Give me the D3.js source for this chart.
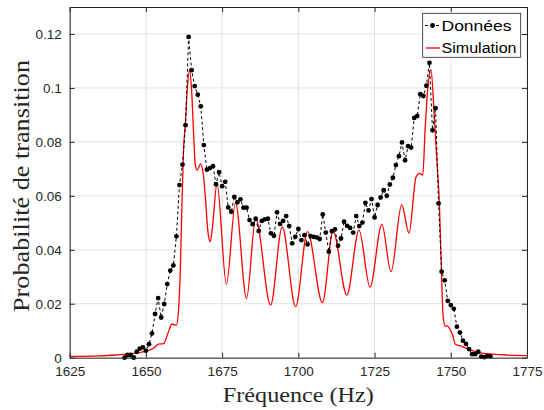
<!DOCTYPE html>
<html><head><meta charset="utf-8">
<script src="https://cdn.jsdelivr.net/npm/d3@7"></script>
<style>body{margin:0;background:#fff}svg{display:block}</style>
</head><body><svg id="c" width="544" height="410"></svg>
<script>
const xTicks = [1625, 1650, 1675, 1700, 1725, 1750, 1775];
const xTickLabels = ["1625", "1650", "1675", "1700", "1725", "1750", "1775"];
const yTicks = [0, 0.02, 0.04, 0.06, 0.08, 0.1, 0.12];
const yTickLabels = ["0", "0.02", "0.04", "0.06", "0.08", "0.1", "0.12"];
const seriesNames = ["Données", "Simulation"];

const dataFreq = [1643,1644,1645,1646,1647,1648,1649,1650,1651,1652,1653,1654,1655,1656,1657,1658,1659,1660,
1661,1662,1663,1664,1665,1666,1667,1668,1669,1670,1671,1672,1673,1674,1675,1676,1677,1678,1679,1680,
1681,1682,1683,1684,1685,1686,1687,1688,1689,1690,1691,1692,1693,1694,1695,1696,1697,1698,1699,1700,
1701,1702,1703,1704,1705,1706,1707,1708,1709,1710,1711,1712,1713,1714,1715,1716,1717,1718,1719,1720,
1721,1722,1723,1724,1725,1726,1727,1728,1729,1730,1731,1732,1733,1734,1735,1736,1737,1738,1739,1740,
1741,1742,1743,1744,1745,1746,1747,1748,1749,1750,1751,1752,1753,1754,1755,1756,1757,1758,1759,1760,
1761,1762,1763];
const dataValues = [0.0,0.001,0.001,0.0,0.0022,0.0034,0.0038,0.0026,0.005,0.009,0.0162,0.0221,0.0149,0.0199,0.0273,0.0323,0.0342,0.045,
0.064,0.0716,0.0862,0.1189,0.1066,0.1007,0.0975,0.0932,0.0788,0.0697,0.0703,0.071,0.0643,0.0688,0.0636,0.0652,0.0557,0.0541,0.0596,0.0576,
0.0587,0.0556,0.0556,0.051,0.0495,0.0515,0.047,0.0507,0.0513,0.0515,0.0461,0.0452,0.0539,0.0496,0.0507,0.0525,0.0488,0.0424,0.0448,0.0477,
0.0436,0.0454,0.042,0.0451,0.0448,0.0446,0.044,0.0531,0.0464,0.0393,0.0469,0.0476,0.0415,0.0442,0.0504,0.0489,0.0481,0.0464,0.0525,0.0488,
0.0501,0.0574,0.0546,0.0588,0.052,0.0566,0.0594,0.0621,0.06,0.0642,0.0667,0.0714,0.0747,0.0798,0.0732,0.0784,0.0779,0.0889,0.0896,0.0977,
0.097,0.1008,0.1093,0.0843,0.0925,0.0572,0.0319,0.0287,0.0211,0.0195,0.0181,0.0115,0.0093,0.0063,0.0051,0.0032,0.0013,0.0013,0.0022,0.0004,
0.0002,0.0007,0.0005];

const simFreq = [1625,1635,1640,1646,1650,1652.5,1654.1,1655.8,1657.4,1658.5,1660,1660.7,1661.3,1661.8,1662.3,1663,1663.6,1664.3,
1665,1665.6,1666.2,1666.8,1667.9,1668.8,1669.6,1670.3,1671.1,1671.8,1673.3,1676.4,1679.4,1683,1686,1690.9,1694.7,1699.1,
1703,1707.9,1711.4,1715.9,1719.9,1723.5,1727.4,1730.4,1733.9,1736.3,1738.6,1739.7,1740.8,1741.6,1742.4,1743.5,1744.6,
1745.5,1746.3,1746.8,1747.5,1748.2,1748.8,1749.6,1750.6,1751.5,1753.6,1756.4,1758.3,1761,1763,1768,1775];
const simValues = [0.0005,0.0007,0.001,0.0016,0.0024,0.0035,0.005,0.0052,0.0096,0.0125,0.0121,0.0177,0.033,0.056,0.076,0.088,0.1,0.1066,
0.099,0.084,0.0715,0.0695,0.0718,0.068,0.058,0.047,0.043,0.048,0.0646,0.0273,0.0574,0.022,0.0516,0.0195,0.0485,0.0189,
0.0467,0.0204,0.0469,0.0232,0.0473,0.0262,0.0494,0.0319,0.0567,0.0462,0.067,0.0683,0.0677,0.085,0.0991,0.1068,0.0893,
0.072,0.0559,0.0374,0.0152,0.0117,0.0118,0.0108,0.0084,0.005,0.0042,0.0029,0.0022,0.0016,0.0014,0.001,0.0008];

const L = 69.7, R = 527, T = 7, B = 357.7;
const axisColor = "#262626";
const svg = d3.select("#c");
const x = d3.scaleLinear().domain([1625, 1775]).range([L, R]);
const y = d3.scaleLinear().domain([0, 0.13]).range([B, T]);

const font = "'Liberation Sans', Arial, sans-serif";
const serif = "'Liberation Serif', 'Times New Roman', serif";

// grid
const g = svg.append("g");
g.selectAll(".gx").data(xTicks).enter().append("line")
  .attr("x1", d => x(d)).attr("x2", d => x(d)).attr("y1", T).attr("y2", B)
  .attr("stroke", "#e2e2e2").attr("stroke-width", 1);
g.selectAll(".gy").data(yTicks).enter().append("line")
  .attr("x1", L).attr("x2", R).attr("y1", d => y(d)).attr("y2", d => y(d))
  .attr("stroke", "#e2e2e2").attr("stroke-width", 1);

// simulation line
svg.append("path")
  .datum(simFreq.map((f, i) => [f, simValues[i]]))
  .attr("fill", "none").attr("stroke", "#ff0000").attr("stroke-width", 1.3)
  .attr("d", d3.line().x(d => x(d[0])).y(d => y(d[1])).curve(d3.curveMonotoneX));

// data line
const dpts = dataFreq.map((f, i) => [f, dataValues[i]]);
svg.append("path")
  .datum(dpts)
  .attr("fill", "none").attr("stroke", "#000").attr("stroke-width", 1)
  .attr("stroke-dasharray", "3,2.5")
  .attr("d", d3.line().x(d => x(d[0])).y(d => y(d[1])));
svg.selectAll(".dot").data(dpts).enter().append("circle")
  .attr("cx", d => x(d[0])).attr("cy", d => y(d[1])).attr("r", 2.4).attr("fill", "#000");

// axes
const xAxisB = d3.axisBottom(x).tickValues(xTicks).tickFormat((d, i) => xTickLabels[i]).tickSizeInner(-5).tickSizeOuter(0).tickPadding(9);
const yAxisL = d3.axisLeft(y).tickValues(yTicks).tickFormat((d, i) => yTickLabels[i]).tickSizeInner(-5).tickSizeOuter(0).tickPadding(8);
const xAxisT = d3.axisTop(x).tickValues(xTicks).tickFormat("").tickSizeInner(-5).tickSizeOuter(0);
const yAxisR = d3.axisRight(y).tickValues(yTicks).tickFormat("").tickSizeInner(-5).tickSizeOuter(0);

function style(sel) {
  sel.selectAll("path").attr("stroke", axisColor).attr("stroke-width", 1);
  sel.selectAll("line").attr("stroke", axisColor).attr("stroke-width", 1);
  sel.selectAll("text").attr("fill", axisColor).style("font-family", font).style("font-size", "13.5px");
}
svg.append("g").attr("transform", `translate(0,${B})`).call(xAxisB).call(style);
svg.append("g").attr("transform", `translate(${L},0)`).call(yAxisL).call(style);
svg.append("g").attr("transform", `translate(0,${T})`).call(xAxisT).call(style);
svg.append("g").attr("transform", `translate(${R},0)`).call(yAxisR).call(style);

// axis labels
svg.append("text").attr("x", (L + R) / 2).attr("y", 401.5).attr("text-anchor", "middle")
  .style("font-family", serif).style("font-size", "22px").attr("fill", axisColor)
  .attr("textLength", 151).attr("lengthAdjust", "spacingAndGlyphs")
  .text("Fréquence (Hz)");
svg.append("text").attr("transform", `translate(28.5,${186}) rotate(-90)`).attr("text-anchor", "middle")
  .style("font-family", serif).style("font-size", "23px").attr("fill", axisColor)
  .attr("textLength", 252).attr("lengthAdjust", "spacingAndGlyphs")
  .text("Probabilité de transition");

// legend
const lg = svg.append("g");
lg.append("rect").attr("x", 422.7).attr("y", 13.3).attr("width", 98).attr("height", 44)
  .attr("fill", "#fff").attr("stroke", axisColor).attr("stroke-width", 0.8);
lg.append("line").attr("x1", 425).attr("x2", 440).attr("y1", 25.5).attr("y2", 25.5)
  .attr("stroke", "#000").attr("stroke-width", 1).attr("stroke-dasharray", "3,2.5");
lg.append("circle").attr("cx", 432.5).attr("cy", 25.5).attr("r", 2.4).attr("fill", "#000");
lg.append("line").attr("x1", 426).attr("x2", 440).attr("y1", 48).attr("y2", 48)
  .attr("stroke", "#ff0000").attr("stroke-width", 1.3);
const legendY = [25.5, 48];
const legendW = [70, 75];
lg.selectAll(".lt").data(seriesNames).enter().append("text")
  .attr("x", 441.5).attr("y", (d, i) => legendY[i]).attr("dy", "0.35em")
  .style("font-family", font).style("font-size", "15.5px").attr("fill", "#000")
  .attr("textLength", (d, i) => legendW[i]).attr("lengthAdjust", "spacingAndGlyphs")
  .text(d => d);
</script>
</body></html>
